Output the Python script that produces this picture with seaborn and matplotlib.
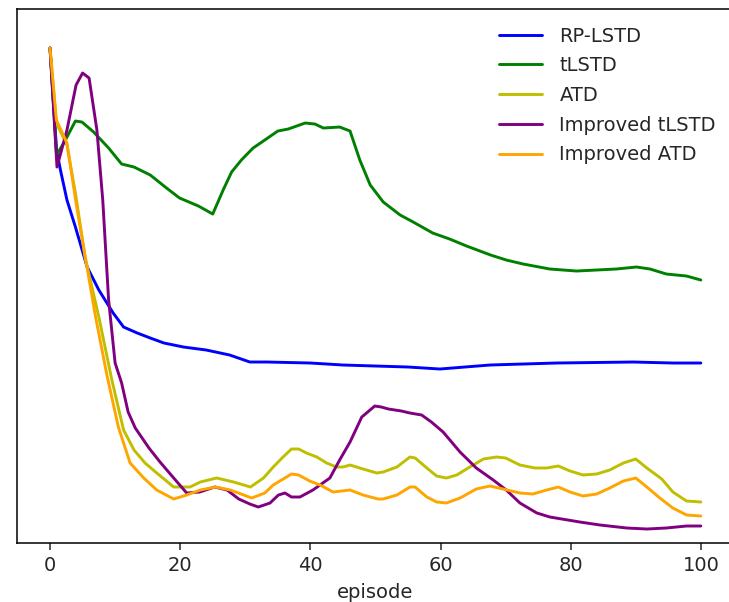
import numpy as np
import pandas as pd
import matplotlib
matplotlib.use('Agg')
import matplotlib.pyplot as plt
import seaborn as sns

# values (y axis has no labels, arbitrary units)
rp_x = [0, 1, 1.6, 2.6, 3.9, 5.7, 7.5, 9.7, 11.3, 13.4, 15.4, 17.5, 20.5, 24, 27.6, 30.7,
        33.3, 40, 45, 50, 55, 59.9, 67.6, 77.8, 89.6, 95.7, 100]
rp_y = [4.95, 3.93, 3.73, 3.43, 3.16, 2.76, 2.53, 2.30, 2.16, 2.10, 2.05, 2.00, 1.96, 1.93, 1.88, 1.81,
        1.81, 1.80, 1.78, 1.77, 1.76, 1.74, 1.78, 1.80, 1.81, 1.80, 1.80]

tl_x = [0, 1, 2.1, 2.6, 3.9, 4.9, 6.7, 9, 11, 12.9, 15.4, 17.9, 19.9, 22.8, 25, 26.6, 27.9, 29.4,
        31.2, 33, 35, 36.6, 39.2, 40.7, 42, 44.5, 46.1, 47.6, 49.2, 51.2, 53.8, 55.8, 58.8, 61.4,
        64, 67.7, 70.1, 72.7, 76.8, 80.9, 87, 90.1, 92.2, 94.7, 97.8, 100]
tl_y = [4.95, 3.88, 4.00, 4.06, 4.22, 4.21, 4.11, 3.95, 3.79, 3.76, 3.68, 3.55, 3.45, 3.37, 3.29,
        3.53, 3.71, 3.83, 3.95, 4.03, 4.12, 4.14, 4.20, 4.19, 4.15, 4.16, 4.12, 3.83, 3.58, 3.41,
        3.28, 3.21, 3.10, 3.04, 2.97, 2.88, 2.83, 2.79, 2.74, 2.72, 2.74, 2.76, 2.74, 2.69, 2.67, 2.63]

atd_x = [0, 0.97, 2.6, 4, 5.4, 7.5, 9.5, 11.3, 12.9, 14.6, 16.4, 19, 21.5, 23.1, 25.6, 28.2, 30.8,
         32.8, 34.3, 35.8, 37.1, 38.2, 39.4, 41, 42.5, 44, 45, 46.1, 48.1, 50.2, 51.2, 53.3, 55.3,
         56.1, 57.9, 59.4, 60.9, 62.5, 64.5, 66.6, 68.6, 70, 72.2, 74.5, 76.3, 78.1, 79.9, 81.9,
         84, 86, 88.1, 90, 91.7, 94, 95.7, 97.8, 100]
atd_y = [4.95, 4.20, 3.98, 3.46, 2.85, 2.26, 1.63, 1.13, 0.93, 0.80, 0.70, 0.56, 0.56, 0.61, 0.65,
         0.61, 0.56, 0.65, 0.76, 0.86, 0.94, 0.94, 0.90, 0.86, 0.80, 0.76, 0.76, 0.78, 0.74, 0.70,
         0.71, 0.76, 0.86, 0.85, 0.75, 0.67, 0.65, 0.68, 0.76, 0.84, 0.86, 0.85, 0.78, 0.75, 0.75,
         0.77, 0.72, 0.68, 0.69, 0.73, 0.80, 0.84, 0.75, 0.64, 0.51, 0.42, 0.41]

itl_x = [0, 1.07, 2.6, 4, 5, 6, 7.2, 8.1, 9, 10, 11, 12, 13.1, 15.2, 16.9, 19, 21, 23, 25.3, 27.2,
         29, 30.7, 32, 33.8, 35.1, 36.1, 37.1, 38.4, 40.4, 43, 44.5, 46.1, 47.9, 49.9, 50.9, 52,
         54, 55.3, 57.1, 58.6, 60.4, 63, 65.5, 68.1, 70.1, 72.2, 74.8, 76.8, 81.4, 84.5, 88.6,
         91.7, 94.7, 97.8, 100]
itl_y = [4.95, 3.76, 4.13, 4.58, 4.70, 4.65, 4.13, 3.43, 2.43, 1.80, 1.60, 1.31, 1.15, 0.95, 0.81,
         0.65, 0.50, 0.51, 0.56, 0.53, 0.44, 0.39, 0.36, 0.40, 0.48, 0.50, 0.46, 0.46, 0.53, 0.65,
         0.83, 1.01, 1.26, 1.37, 1.36, 1.34, 1.32, 1.30, 1.28, 1.21, 1.11, 0.91, 0.75, 0.63, 0.53,
         0.40, 0.30, 0.26, 0.21, 0.18, 0.15, 0.14, 0.15, 0.17, 0.17]

iatd_x = [0, 0.97, 2.6, 4, 4.7, 7, 8.8, 10.5, 12.3, 14.4, 16.4, 19, 21, 23.1, 25.4, 27.7, 31, 33,
          34.3, 37.1, 38.2, 39.9, 41.5, 43.5, 46.1, 48.1, 50.4, 51.2, 53.3, 55.3, 56.1, 57.9, 59.4,
          60.9, 63, 65.5, 67.6, 69.6, 72.2, 74.2, 76.3, 78.1, 79.9, 81.9, 84, 86, 88.1, 90, 91.7,
          93.7, 95.7, 97.8, 100]
iatd_y = [4.95, 4.23, 4.00, 3.40, 3.13, 2.26, 1.66, 1.16, 0.80, 0.65, 0.53, 0.44, 0.48, 0.53, 0.56,
          0.53, 0.45, 0.50, 0.58, 0.69, 0.68, 0.62, 0.58, 0.51, 0.53, 0.48, 0.44, 0.44, 0.48, 0.56,
          0.56, 0.46, 0.41, 0.40, 0.45, 0.54, 0.57, 0.54, 0.50, 0.49, 0.53, 0.56, 0.51, 0.47, 0.49,
          0.55, 0.62, 0.65, 0.56, 0.45, 0.35, 0.28, 0.27]

methods = ['RP-LSTD', 'tLSTD', 'ATD', 'Improved tLSTD', 'Improved ATD']
colors = ['#0000ff', '#008000', '#bfbf00', '#800080', '#ffa500']
series = [(rp_x, rp_y), (tl_x, tl_y), (atd_x, atd_y), (itl_x, itl_y), (iatd_x, iatd_y)]

frames = []
for name, (xs, ys) in zip(methods, series):
    frames.append(pd.DataFrame({'episode': xs, 'value': ys, 'method': name}))
df = pd.concat(frames, ignore_index=True)

sns.set_style('ticks')
plt.rcParams['font.family'] = ['DejaVu Sans']
plt.rcParams['font.size'] = 14

fig = plt.figure(figsize=(7.29, 6.02), dpi=100)
# axes run slightly past the right edge, as in the (cropped) reference
ax = fig.add_axes([0.024, 0.098, 0.982, 0.887])

sns.lineplot(data=df, x='episode', y='value', hue='method', hue_order=methods,
             palette=dict(zip(methods, colors)), estimator=None, sort=True,
             linewidth=2.1, ax=ax)

ax.set_xlim(-5, 105)
ax.set_ylim(0, 5.34)
ax.set_yticks([])
ax.set_xticks([0, 20, 40, 60, 80, 100])
ax.set_xlabel('episode', fontsize=14, labelpad=5.5)
ax.set_ylabel('')
ax.tick_params(axis='x', length=4.8, width=1.1, pad=4.8, labelsize=14, direction='out')
for s in ax.spines.values():
    s.set_linewidth(1.1)
    s.set_color('black')
ax.spines['right'].set_visible(False)

handles, labels = ax.get_legend_handles_labels()
ax.legend(handles, labels, loc='upper right', frameon=False, fontsize=14,
          handlelength=2.2, handletextpad=0.9, labelspacing=0.55)

fig.savefig('out.png', dpi=100)
